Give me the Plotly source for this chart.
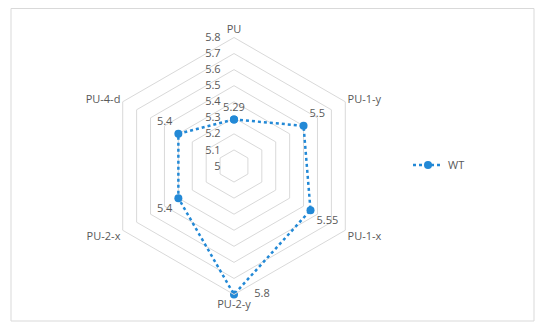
import plotly.graph_objects as go

categories = ["PU", "PU-1-y", "PU-1-x", "PU-2-y", "PU-2-x", "PU-4-d"]
values = [5.29, 5.5, 5.55, 5.8, 5.4, 5.4]
value_labels = ["5.29", "5.5", "5.55", "     5.8", "5.4", "5.4"]
label_positions = ["top center", "top right", "bottom right", "middle right", "bottom left", "top left"]
radial_ticks = [5, 5.1, 5.2, 5.3, 5.4, 5.5, 5.6, 5.7, 5.8]

blue = "#2389D6"
grey_text = "#595959"
grid_grey = "#D9D9D9"

W, H = 542, 323  # page body has an 8px margin

fig = go.Figure()
fig.add_trace(go.Scatterpolar(
    r=values + [values[0]],
    theta=categories + [categories[0]],
    mode="lines+markers+text",
    name="WT",
    text=value_labels + [""],
    textposition=label_positions + ["top center"],
    textfont=dict(family="Open Sans, sans-serif", size=11, color=grey_text),
    line=dict(color=blue, width=2.5, dash="dot"),
    marker=dict(color=blue, size=8),
    cliponaxis=False,
))

cx, cy, R = 226, 158, 128.5
fig.update_layout(
    width=W, height=H,
    margin=dict(l=0, r=0, t=0, b=0),
    paper_bgcolor="white",
    plot_bgcolor="white",
    font=dict(family="Open Sans, sans-serif", size=11, color=grey_text),
    polar=dict(
        domain=dict(x=[(cx - R) / W, (cx + R) / W],
                    y=[(H - cy - R) / H, (H - cy + R) / H]),
        bgcolor="white",
        gridshape="linear",
        radialaxis=dict(
            range=[5, 5.8],
            tickvals=radial_ticks,
            ticktext=[("%g" % t) for t in radial_ticks],
            angle=90,
            tickangle=90,
            side="counterclockwise",
            showline=False,
            ticks="outside",
            ticklen=9,
            tickcolor="rgba(0,0,0,0)",
            gridcolor=grid_grey,
            gridwidth=1,
            tickfont=dict(size=11, color=grey_text),
        ),
        angularaxis=dict(
            direction="clockwise",
            rotation=90,
            showgrid=False,
            showline=True,
            linecolor=grid_grey,
            linewidth=1,
            ticks="",
            tickfont=dict(size=11, color=grey_text),
        ),
    ),
    showlegend=True,
    legend=dict(
        x=400 / W, y=(H - 157) / H, xanchor="left", yanchor="middle",
        font=dict(size=11, color=grey_text),
        bgcolor="rgba(0,0,0,0)",
    ),
    shapes=[dict(type="rect", xref="paper", yref="paper",
                 x0=3 / W, x1=526 / W, y0=(H - 313) / H, y1=(H - 0.5) / H,
                 line=dict(color=grid_grey, width=1))],
)

fig.write_html("out.html")
